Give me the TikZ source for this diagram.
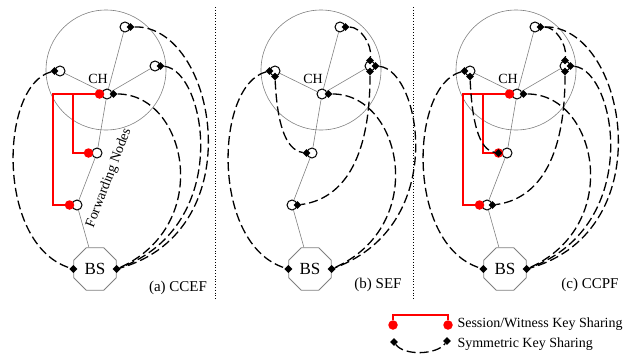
\documentclass[tikz,border=0pt]{standalone}
\usepackage{fontspec}
\setmainfont{Liberation Serif}
\usetikzlibrary{shapes.geometric}

\tikzset{
  sensor/.style={circle,draw,line width=1pt,fill=white,minimum size=10pt,inner sep=0pt},
  zone/.style={circle,draw=gray,line width=0.6pt,minimum size=120pt,inner sep=0pt},
  base/.style={regular polygon,regular polygon sides=8,draw=gray,line width=0.8pt,minimum size=46pt,inner sep=0pt,font=\fontsize{17}{19}\selectfont},
  link/.style={gray,line width=0.6pt},
  kmark/.style={diamond,fill=black,inner sep=0pt,minimum size=8pt},
  rdot/.style={circle,fill=red,inner sep=0pt,minimum size=9.5pt},
  keyred/.style={red,line width=1.2pt},
  keysym/.style={line width=1.3pt,dash pattern=on 9pt off 4pt},
  caption/.style={font=\fontsize{15}{17}\selectfont}
}

\begin{document}
\begin{tikzpicture}[x=1pt,y=-1pt,font=\fontsize{14}{16}\selectfont]
\useasboundingbox (0,0) rectangle (623,356);

% the same cluster in every panel
\foreach \p/\dx in {a/0,b/215,c/410}{
\begin{scope}[xshift=\dx pt]
\node[zone] (\p-zone) at (106,70) {};
\node[base] (\p-BS) at (95,269) {BS};
\node[sensor] (\p-T) at (125,27) {};
\node[sensor] (\p-L) at (60,71) {};
\node[sensor] (\p-R) at (155,66) {};
\node[sensor] (\p-C) at (107,94) {};
\node[sensor] (\p-F1) at (97,153) {};
\node[sensor] (\p-F2) at (77,205) {};
\draw[link] (\p-C) -- (\p-T);
\draw[link] (\p-C) -- (\p-L);
\draw[link] (\p-C) -- (\p-R);
\draw[link] (\p-C) -- (\p-F1);
\draw[link] (\p-F1) -- (\p-F2);
\draw[link] (\p-F2) -- (\p-BS);
\node[inner sep=1pt] (\p-chlab) at (98,79) {CH};
\end{scope}
}

\draw[dotted,line width=0.8pt] (215,7) -- (215,300);
\draw[dotted,line width=0.8pt] (413,7) -- (413,300);

% (a) CCEF
\node[caption] (a-cap) at (178,288) {(a) CCEF};
\node[rotate=69,inner sep=0pt] (a-fwd) at (109,178) {Forwarding Nodes};
\node[rdot] (a-rC) at ([xshift=-2pt]a-C.west) {};
\node[rdot] (a-r1) at ([xshift=-3pt]a-F1.west) {};
\node[rdot] (a-r2) at ([xshift=-2pt]a-F2.west) {};
\coordinate (a-ro) at (53,94);
\coordinate (a-ri) at (73,94);
\draw[keyred] (a-rC) -- (a-ro) |- (a-r2);
\draw[keyred] (a-ri) |- (a-r1);
\node[kmark] (a-kT) at (a-T.east) {};
\node[kmark] (a-kL) at (a-L.west) {};
\node[kmark] (a-kR) at (a-R.east) {};
\node[kmark] (a-kC) at ([xshift=1pt]a-C.east) {};
\node[kmark] (a-kB1) at (a-BS.west) {};
\node[kmark] (a-kB2) at (a-BS.east) {};
\draw[keysym] (a-kL) .. controls +(-55,14) and +(-78,-24) .. (a-kB1);
\draw[keysym] (a-kT) .. controls +(85,-2) and +(138,-39) .. (a-kB2);
\draw[keysym] (a-kR) .. controls +(45,4) and +(118,-44) .. (a-kB2);
\draw[keysym] (a-kC) .. controls +(73,0) and +(98,-44) .. (a-kB2);

% (b) SEF
\node[caption] (b-cap) at (378,285) {(b) SEF};
\node[kmark] (b-kT) at (b-T.east) {};
\node[kmark] (b-kL) at (b-L.west) {};
\node[kmark] (b-kLb) at (b-L.south) {};
\node[kmark] (b-kRt) at (b-R.north) {};
\node[kmark] (b-kR) at (b-R.east) {};
\node[kmark] (b-kRb) at (b-R.south) {};
\node[kmark] (b-kC) at ([xshift=1pt]b-C.east) {};
\node[kmark] (b-kF1) at (b-F1.west) {};
\node[kmark] (b-kF2) at (b-F2.east) {};
\node[kmark] (b-kB1) at (b-BS.west) {};
\node[kmark] (b-kB2) at (b-BS.east) {};
\draw[keysym] (b-kL) .. controls +(-55,14) and +(-78,-24) .. (b-kB1);
\draw[keysym] (b-kLb) .. controls +(2,44) and +(-22,-3) .. (b-kF1);
\draw[keysym] (b-kT) .. controls +(15,0) and +(2,-16) .. (b-kRt);
\draw[keysym] (b-kR) .. controls +(45,4) and +(118,-44) .. (b-kB2);
\draw[keysym] (b-kRb) .. controls +(0,99) and +(38,-5) .. (b-kF2);
\draw[keysym] (b-kC) .. controls +(73,0) and +(98,-44) .. (b-kB2);

% (c) CCPF
\node[caption] (c-cap) at (590,285) {(c) CCPF};
\node[rdot] (c-rC) at ([xshift=-2pt]c-C.west) {};
\node[rdot] (c-r1) at ([xshift=-3pt]c-F1.west) {};
\node[rdot] (c-r2) at ([xshift=-2pt]c-F2.west) {};
\coordinate (c-ro) at (463,94);
\coordinate (c-ri) at (483,94);
\draw[keyred] (c-rC) -- (c-ro) |- (c-r2);
\draw[keyred] (c-ri) |- (c-r1);
\node[kmark] (c-kT) at (c-T.east) {};
\node[kmark] (c-kL) at (c-L.west) {};
\node[kmark] (c-kLb) at (c-L.south) {};
\node[kmark] (c-kRt) at (c-R.north) {};
\node[kmark] (c-kR) at (c-R.east) {};
\node[kmark] (c-kRb) at (c-R.south) {};
\node[kmark] (c-kC) at ([xshift=1pt]c-C.east) {};
\node[kmark] (c-kF1) at (c-r1) {};
\node[kmark] (c-kF2) at (c-F2.east) {};
\node[kmark] (c-kB1) at (c-BS.west) {};
\node[kmark] (c-kB2) at (c-BS.east) {};
\draw[keysym] (c-kL) .. controls +(-55,14) and +(-78,-24) .. (c-kB1);
\draw[keysym] (c-kLb) .. controls +(2,44) and +(-20,-3) .. (c-kF1);
\draw[keysym] (c-kT) .. controls +(15,0) and +(2,-16) .. (c-kRt);
\draw[keysym] (c-kT) .. controls +(85,-2) and +(138,-39) .. (c-kB2);
\draw[keysym] (c-kR) .. controls +(45,4) and +(118,-44) .. (c-kB2);
\draw[keysym] (c-kRb) .. controls +(0,99) and +(38,-5) .. (c-kF2);
\draw[keysym] (c-kC) .. controls +(73,0) and +(98,-44) .. (c-kB2);

% legend
\node[rdot] (lg-r1) at (393,325) {};
\node[rdot] (lg-r2) at (448,325) {};
\coordinate (lg-top) at (420,315);
\draw[keyred] (lg-r1) |- (lg-top) -| (lg-r2);
\node[anchor=west] (lg-t1) at (454,324) {Session/Witness Key Sharing};
\node[kmark] (lg-k1) at (394,342) {};
\node[kmark] (lg-k2) at (447,341) {};
\draw[keysym] (lg-k1) .. controls +(10,14) and +(-10,14) .. (lg-k2);
\node[anchor=west] (lg-t2) at (454,344) {Symmetric Key Sharing};
\end{tikzpicture}
\end{document}
